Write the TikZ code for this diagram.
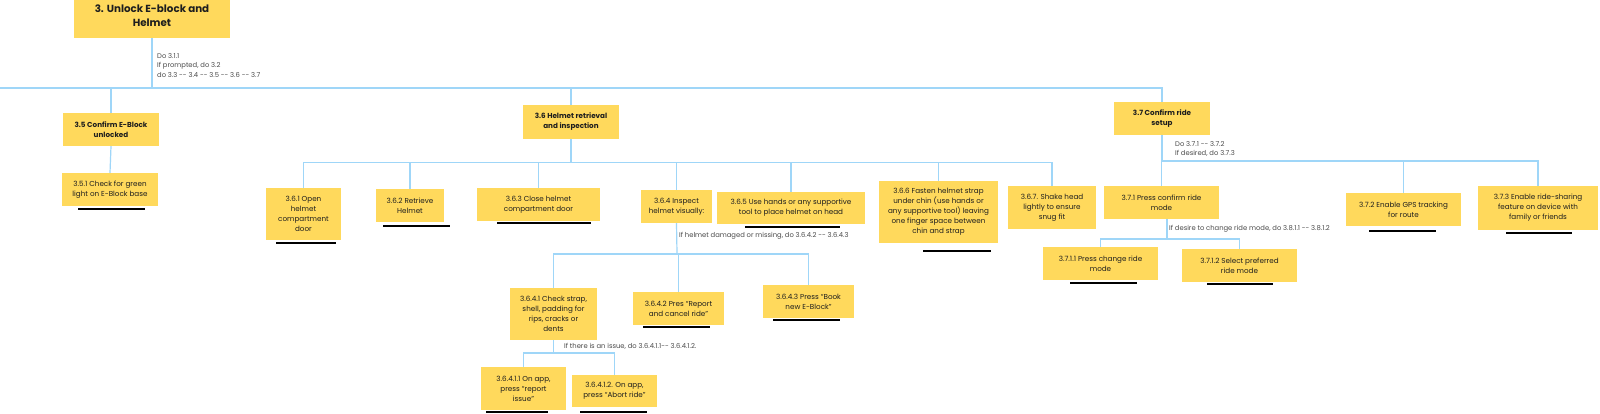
\documentclass[tikz,border=0pt]{standalone}
\usepackage{fontspec}
\setmainfont{Poppins}
\definecolor{sticky}{HTML}{FFD95C}
\definecolor{conn}{HTML}{9FD6F8}
\definecolor{notec}{HTML}{4A4A4A}
\definecolor{ink}{HTML}{1E1E1E}
\tikzset{
 box/.style={fill=sticky, inner sep=0pt, align=center, font=\fontsize{7.2}{10}\selectfont, text=ink},
 head/.style={box, font=\fontsize{7.2}{10}\selectfont\bfseries},
 title/.style={box, font=\fontsize{10.3}{14}\selectfont\bfseries},
 link/.style={draw=conn, line width=1.2pt},
 bar/.style={draw=black, line width=2.2pt},
 notes/.style={anchor=west, align=left, inner sep=0pt, font=\fontsize{6.8}{9.5}\selectfont, text=notec},
}
\newcommand{\stk}[7][box]{\node[#1, minimum width={#4-#2}, minimum height={#5-#3}] (#6) at ({(#2+#4)/2},{(#3+#5)/2}) {#7};}
\begin{document}
\begin{tikzpicture}[x=1pt,y=-1pt]
\useasboundingbox (0,0) rectangle (1600,413);
\clip (0,0) rectangle (1600,413);
\fill[white] (0,0) rectangle (1600,413);
% nodes
\stk[title]{74}{-6}{230}{38}{top}{3. Unlock E-block and\\Helmet}
\stk[head]{63}{113}{159}{146}{n35}{3.5 Confirm E-Block\\unlocked}
\stk{62}{173}{158}{206}{n351}{3.5.1 Check for green\\light on E-Block base}
\stk[head]{523}{105}{619}{139}{n36}{3.6 Helmet retrieval\\and inspection}
\stk{266}{188}{341}{240}{n361}{3.6.1 Open\\helmet\\compartment\\door}
\stk{376}{189}{444}{222}{n362}{3.6.2 Retrieve\\Helmet}
\stk{477}{188}{600}{221}{n363}{3.6.3 Close helmet\\compartment door}
\stk{641}{190}{712}{223}{n364}{3.6.4 Inspect\\helmet visually:}
\stk{717}{192}{865}{224}{n365}{3.6.5 Use hands or any supportive\\tool to place helmet on head}
\stk{879}{181}{998}{243}{n366}{3.6.6 Fasten helmet strap\\under chin (use hands or\\any supportive tool) leaving\\one finger space between\\chin and strap}
\stk{1008}{186}{1096}{229}{n367}{3.6.7. Shake head\\lightly to ensure\\snug fit}
\stk[head]{1114}{102}{1210}{135}{n37}{3.7 Confirm ride\\setup}
\stk{1104}{186}{1219}{219}{n371}{3.7.1 Press confirm ride\\mode}
\stk{1043}{247}{1158}{280}{n3711}{3.7.1.1 Press change ride\\mode}
\stk{1182}{249}{1297}{282}{n3712}{3.7.1.2 Select preferred\\ride mode}
\stk{1346}{193}{1461}{226}{n372}{3.7.2 Enable GPS tracking\\for route}
\stk{1478}{186}{1598}{230}{n373}{3.7.3 Enable ride-sharing\\feature on device with\\family or friends}
\stk{510}{288}{597}{340}{n3641}{3.6.4.1 Check strap,\\shell, padding for\\rips, cracks or\\dents}
\stk{633}{292}{724}{325}{n3642}{3.6.4.2 Pres “Report\\and cancel ride”}
\stk{763}{285}{854}{318}{n3643}{3.6.4.3 Press “Book\\new E-Block”}
\stk{481}{367}{566}{410}{n36411}{3.6.4.1.1 On app,\\press “report\\issue”}
\stk{572}{375}{657}{407}{n36412}{3.6.4.1.2. On app,\\press “Abort ride”}
% underline bars
\draw[bar] (78,209) -- (145,209);
\draw[bar] (276,243) -- (336,243);
\draw[bar] (383,226) -- (450,226);
\draw[bar] (497,223) -- (591,223);
\draw[bar] (745,227) -- (840,227);
\draw[bar] (923,251) -- (991,251);
\draw[bar] (1070,283) -- (1137,283);
\draw[bar] (1207,284) -- (1273,284);
\draw[bar] (1369,231) -- (1436,231);
\draw[bar] (1506,233) -- (1572,233);
\draw[bar] (643,327) -- (710,327);
\draw[bar] (773,320) -- (840,320);
\draw[bar] (486,412) -- (548,412);
\draw[bar] (580,412) -- (647,412);
% connectors
\coordinate (b0) at (152,88);
\coordinate (L0) at (0,88);
\draw[link] (top.south) -- (b0);
\draw[link] (L0) -- (n35.north |- b0);
\draw[link] (n35.north) |- (b0) -| (n37.north);
\draw[link] (n36.north) -- (n36.north |- b0);
\draw[link] (n35.south) -- (n351.north);
\coordinate (b36) at (571,162.5);
\draw[link] (n36.south) -- (b36);
\draw[link] (n361.north) |- (b36) -| (n367.north);
\foreach \c in {n362,n363,n364,n365,n366} \draw[link] (\c.north) -- (\c.north |- b36);
\coordinate (b364) at (677,254);
\draw[link] (n364.south) -- (b364);
\draw[link] (n3641.north) |- (b364) -| (n3643.north);
\draw[link] (n3642.north) -- (n3642.north |- b364);
\coordinate (b3641) at (553.5,353);
\draw[link] (n3641.south) -- (b3641);
\draw[link] (n36411.north) |- (b3641) -| (n36412.north);
\coordinate (b37) at (1162,161);
\draw[link] (n37.south) -- (b37);
\draw[link] (n371.north) |- (b37) -| (n373.north);
\draw[link] (n372.north) -- (n372.north |- b37);
\coordinate (b371) at (1167,239);
\draw[link] ([xshift=5.5pt]n371.south) -- (b371);
\draw[link] (n3711.north) |- (b371) -| (n3712.north);
% annotations
\node[notes] (t0) at (157,65.5) {Do 3.1.1\\If prompted, do 3.2\\do 3.3 -{}- 3.4 -{}- 3.5 -{}- 3.6 -{}- 3.7};
\node[notes] (t364) at (679,236) {If helmet damaged or missing, do 3.6.4.2 -{}- 3.6.4.3};
\node[notes] (t3641) at (564,346) {If there is an issue, do 3.6.4.1.1-{}- 3.6.4.1.2.};
\node[notes] (t37) at (1175,149) {Do 3.7.1 -{}- 3.7.2\\If desired, do 3.7.3};
\node[notes] (t371) at (1169,229) {If desire to change ride mode, do 3.8.1.1 -{}- 3.8.1.2};
\end{tikzpicture}
\end{document}
